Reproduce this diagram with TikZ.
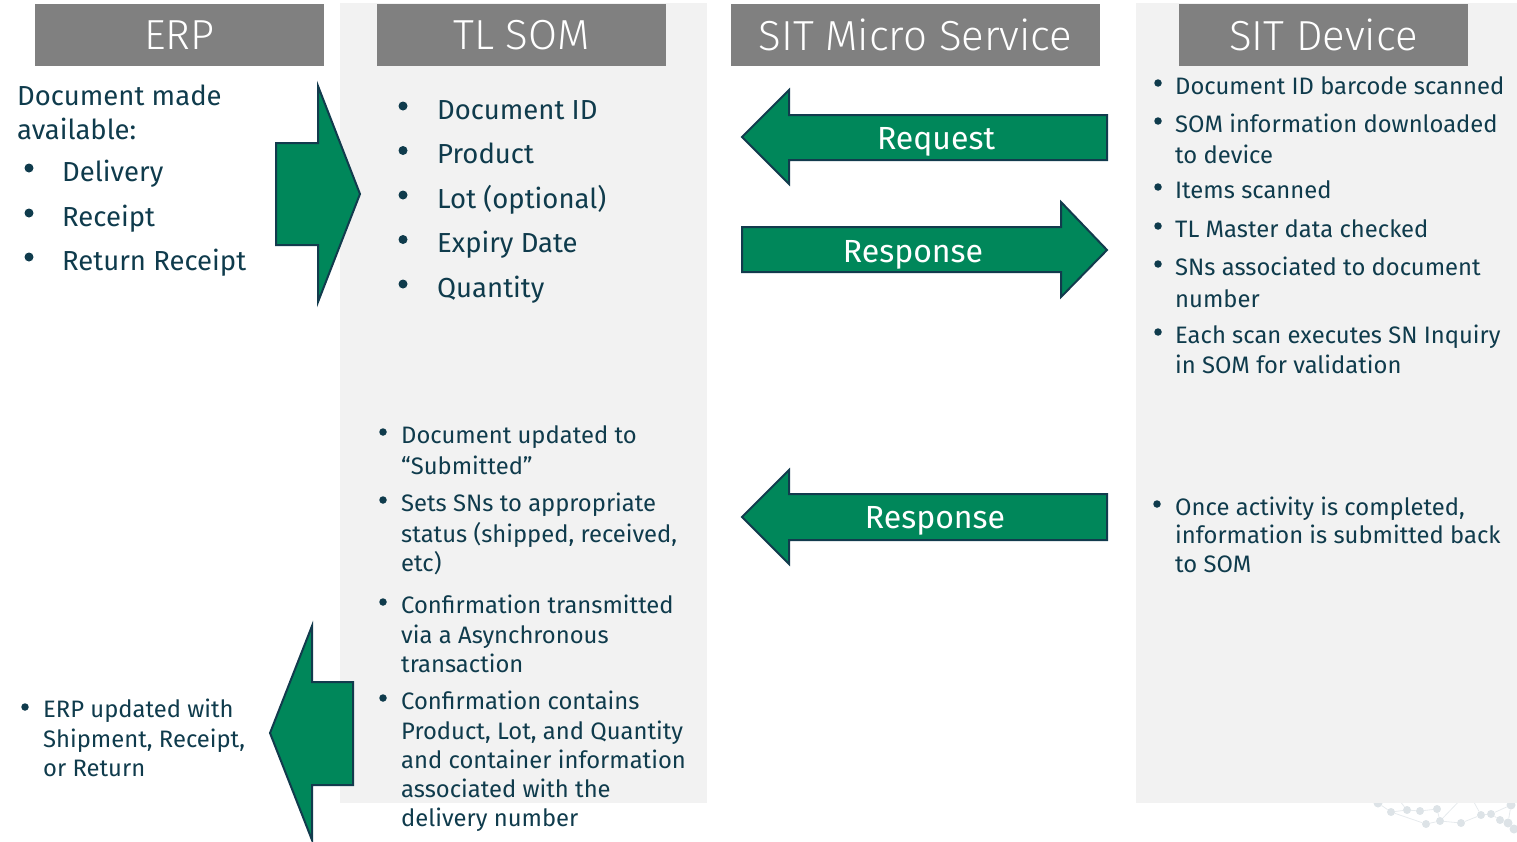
\documentclass[tikz,border=0pt]{standalone}
\usepackage{fontspec}
\setmainfont{Fira Sans}
\newfontfamily\lightfont{Fira Sans Light}
\definecolor{txt}{HTML}{0F3B4C}
\definecolor{panel}{HTML}{F2F2F2}
\definecolor{hdr}{HTML}{808080}
\definecolor{grn}{HTML}{00875A}
\definecolor{navy}{HTML}{123B4D}
\definecolor{netdot}{HTML}{DDE3E7}
\definecolor{netline}{HTML}{E6EAED}
\tikzset{
  head/.style={fill=hdr,text=white,minimum height=62pt,inner sep=0pt,font=\lightfont\fontsize{42}{48}\selectfont},
  garrow/.style={fill=grn,draw=navy,line width=2pt,line join=miter},
  alabel/.style={anchor=base,inner sep=0pt,text=white,font=\fontsize{32}{36}\selectfont},
  big/.style={anchor=base west,inner sep=0pt,text=txt,font=\fontsize{27.5}{33}\selectfont},
  small/.style={anchor=base west,inner sep=0pt,text=txt,font=\fontsize{23.8}{28}\selectfont},
  bbig/.style={circle,fill=txt,inner sep=0pt,minimum size=9pt},
  bsmall/.style={circle,fill=txt,inner sep=0pt,minimum size=7.5pt},
  ndot/.style={circle,fill=netdot,inner sep=0pt,minimum size=#1},
}
\begin{document}
\begin{tikzpicture}[x=1pt,y=-1pt]
\useasboundingbox (0,0) rectangle (1517,841);
% faint network decoration
\node[ndot=9pt] (n1) at (1378,803) {};
\node[ndot=8pt] (n2) at (1391,812) {};
\node[ndot=8pt] (n3) at (1407,810) {};
\node[ndot=8pt] (n4) at (1420,811) {};
\node[ndot=8pt] (n5) at (1437,809) {};
\node[ndot=8pt] (n6) at (1426,824) {};
\node[ndot=8pt] (n7) at (1440,821) {};
\node[ndot=8pt] (n8) at (1461,823) {};
\node[ndot=8pt] (n9) at (1481,815) {};
\node[ndot=8pt] (n10) at (1491,814) {};
\node[ndot=8pt] (n11) at (1500,820) {};
\node[ndot=9pt] (n12) at (1508,823) {};
\node[ndot=9pt] (n13) at (1514,829) {};
\node[ndot=9pt] (n14) at (1511,805) {};
\begin{scope}[netline,line width=0.8pt]
\draw (n1) -- (n2) -- (n3) -- (n4) -- (n5);
\draw (n2) -- (n6) -- (n7) -- (n8) -- (n9) -- (n10) -- (n14);
\draw (n5) -- (n7);
\draw (n10) -- (n11) -- (n12) -- (n13);
\draw (n14) -- (n12);
\draw (n3) -- (1395,795);
\draw (n9) -- (1470,795);
\draw (n7) -- (1465,795);
\end{scope}
% panels
\fill[panel] (340,3) rectangle (707,803);
\fill[panel] (1136,3) rectangle (1517,803);
% headers
\node[head,minimum width=289pt] (herp) at (179.5,35) {ERP};
\node[head,minimum width=289pt] (hsom) at (521.5,35) {TL SOM};
\node[head,minimum width=369pt] (hms) at (915.5,35) {SIT Micro Service};
\node[head,minimum width=289pt] (hdev) at (1323.5,35) {SIT Device};
% arrows
\draw[garrow] (276,143) -- (318,143) -- (318,86) -- (360,194) -- (318,302) -- (318,245) -- (276,245) -- cycle;
\draw[garrow] (742,137) -- (789,90) -- (789,115) -- (1107,115) -- (1107,160) -- (789,160) -- (789,184) -- cycle;
\draw[garrow] (742,227) -- (1061,227) -- (1061,202) -- (1107,250) -- (1061,297) -- (1061,272) -- (742,272) -- cycle;
\draw[garrow] (742,517) -- (789,470) -- (789,494) -- (1107,494) -- (1107,540) -- (789,540) -- (789,564) -- cycle;
\draw[garrow] (270,733) -- (312,626) -- (312,682) -- (353,682) -- (353,785) -- (312,785) -- (312,840) -- cycle;
\node[alabel] (lreq) at (936,149) {Request};
\node[alabel] (lresp1) at (913,262) {Response};
\node[alabel] (lresp2) at (935,528) {Response};
% ERP column
\node[big] (e0) at (17,105) {Document made};
\node[big] (e1) at (17,139) {available:};
\node[bbig] (be2) at (29,168) {};
\node[big] (e2) at (62,181) {Delivery};
\node[bbig] (be3) at (29,213) {};
\node[big] (e3) at (62,226) {Receipt};
\node[bbig] (be4) at (29,257) {};
\node[big] (e4) at (62,270) {Return Receipt};
\node[bsmall] (be5) at (25,707) {};
\node[small] (e5) at (43,717) {ERP updated with};
\node[small] (e6) at (43,747) {Shipment, Receipt,};
\node[small] (e7) at (43,776) {or Return};
% TL SOM top
\node[bbig] (bs1) at (403,106) {};
\node[big] (s1) at (437,119) {Document ID};
\node[bbig] (bs2) at (403,150.5) {};
\node[big] (s2) at (437,163.5) {Product};
\node[bbig] (bs3) at (403,195) {};
\node[big] (s3) at (437,208) {Lot (optional)};
\node[bbig] (bs4) at (403,239.5) {};
\node[big] (s4) at (437,252.5) {Expiry Date};
\node[bbig] (bs5) at (403,284) {};
\node[big] (s5) at (437,297) {Quantity};
% TL SOM lower
\node[bsmall] (bt1) at (383,432) {};
\node[small] (t1) at (401,443) {Document updated to};
\node[small] (t2) at (401,474) {“Submitted”};
\node[bsmall] (bt3) at (383,500) {};
\node[small] (t3) at (401,511) {Sets SNs to appropriate};
\node[small] (t4) at (401,542) {status (shipped, received,};
\node[small] (t5) at (401,571) {etc)};
\node[bsmall] (bt6) at (383,602) {};
\node[small] (t6) at (401,613) {Confirmation transmitted};
\node[small] (t7) at (401,643) {via a Asynchronous};
\node[small] (t8) at (401,672) {transaction};
\node[bsmall] (bt9) at (383,698) {};
\node[small] (t9) at (401,709) {Confirmation contains};
\node[small] (t10) at (401,739) {Product, Lot, and Quantity};
\node[small] (t11) at (401,768) {and container information};
\node[small] (t12) at (401,797) {associated with the};
\node[small] (t13) at (401,826) {delivery number};
% SIT Device
\node[bsmall] (bd1) at (1158,83) {};
\node[small] (d1) at (1175,94) {Document ID barcode scanned};
\node[bsmall] (bd2) at (1158,121) {};
\node[small] (d2) at (1175,132) {SOM information downloaded};
\node[small] (d3) at (1175,163) {to device};
\node[bsmall] (bd4) at (1158,187) {};
\node[small] (d4) at (1175,198) {Items scanned};
\node[bsmall] (bd5) at (1158,226) {};
\node[small] (d5) at (1175,237) {TL Master data checked};
\node[bsmall] (bd6) at (1158,264) {};
\node[small] (d6) at (1175,275) {SNs associated to document};
\node[small] (d7) at (1175,307) {number};
\node[bsmall] (bd8) at (1158,332) {};
\node[small] (d8) at (1175,343) {Each scan executes SN Inquiry};
\node[small] (d9) at (1175,373) {in SOM for validation};
\node[bsmall] (bd10) at (1157,504) {};
\node[small] (d10) at (1175,515) {Once activity is completed,};
\node[small] (d11) at (1175,543) {information is submitted back};
\node[small] (d12) at (1175,572) {to SOM};
\end{tikzpicture}
\end{document}
